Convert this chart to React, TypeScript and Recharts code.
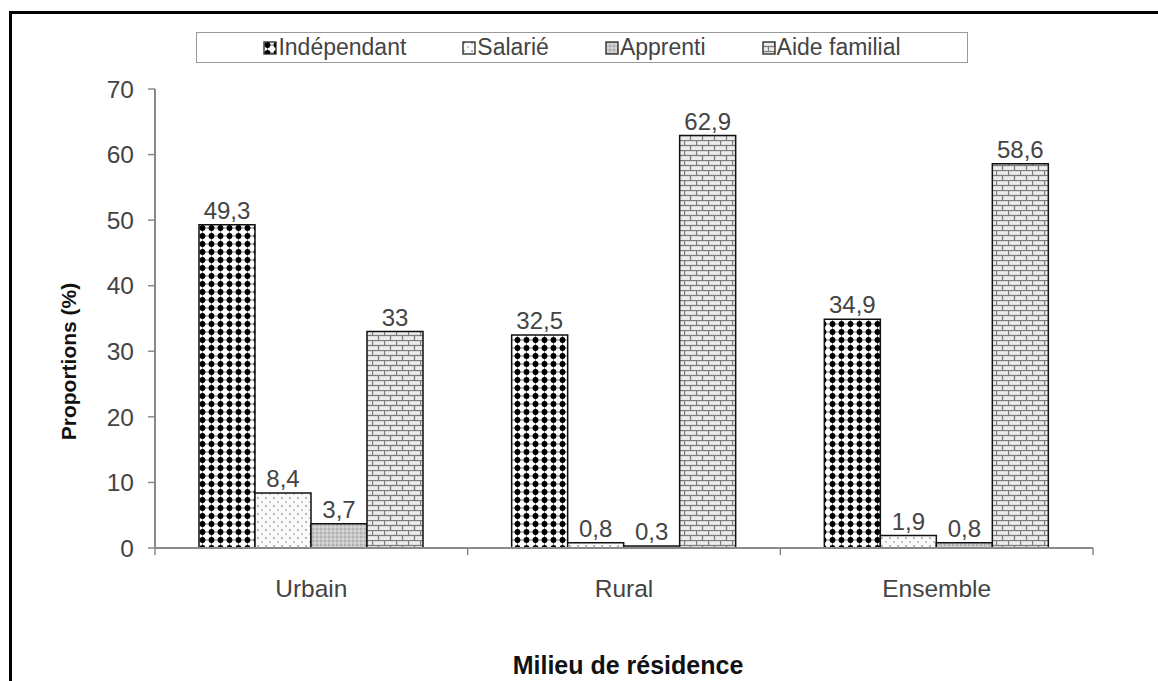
import React from 'react';
import { BarChart, Bar, XAxis, YAxis, Legend, LabelList } from 'recharts';

const categories = ['Urbain', 'Rural', 'Ensemble'];
const independant = [49.3, 32.5, 34.9];
const salarie = [8.4, 0.8, 1.9];
const apprenti = [3.7, 0.3, 0.8];
const aideFamilial = [33, 62.9, 58.6];
const yTicks = [0, 10, 20, 30, 40, 50, 60, 70];
const seriesNames = ['Indépendant', 'Salarié', 'Apprenti', 'Aide familial'];
const seriesKeys = ['ind', 'sal', 'app', 'aide'];
const patternIds = ['pInd', 'pSal', 'pApp', 'pAide'];

const data = categories.map((name, i) => ({
  name,
  ind: independant[i],
  sal: salarie[i],
  app: apprenti[i],
  aide: aideFamilial[i],
}));

const W = 1158;
const H = 681;
const MARGIN = { top: 89, right: 65, bottom: 0, left: 0 };
const Y_AXIS_W = 155;
const X_AXIS_H = 133;
const PLOT_W = W - MARGIN.left - MARGIN.right - Y_AXIS_W;
const BAND = PLOT_W / categories.length;
const FONT = '"Liberation Sans", Arial, sans-serif';
const AXIS_COLOR = '#8a8a8a';
const TEXT_COLOR = '#444';

const fmt = (v: any) => String(v).replace('.', ',');

const XTick = (props: any) => {
  const { x, y, payload, index } = props;
  const half = BAND / 2;
  return (
    <g>
      <line x1={x - half} x2={x - half} y1={y} y2={y + 7} stroke={AXIS_COLOR} strokeWidth={1.5} />
      {index === categories.length - 1 && (
        <line x1={x + half} x2={x + half} y1={y} y2={y + 7} stroke={AXIS_COLOR} strokeWidth={1.5} />
      )}
      <text x={x} y={y + 40} textAnchor="middle" dominantBaseline="central" fontSize={24.5} fill={TEXT_COLOR} fontFamily={FONT}>
        {payload.value}
      </text>
    </g>
  );
};

const LegendContent = () => (
  <div
    style={{
      boxSizing: 'border-box',
      width: 772,
      height: 31,
      border: '1.5px solid #999',
      display: 'flex',
      alignItems: 'center',
      justifyContent: 'center',
      gap: 56,
      fontFamily: FONT,
      fontSize: 23,
      color: TEXT_COLOR,
      background: '#fff',
    }}
  >
    {seriesNames.map((n, i) => (
      <div key={n} style={{ display: 'flex', alignItems: 'center' }}>
        <svg width={14} height={14} style={{ marginRight: 1 }}>
          <rect x={1} y={1} width={12} height={12} fill={`url(#${patternIds[i]})`} stroke="#222" strokeWidth={1.3} />
        </svg>
        <span>{n}</span>
      </div>
    ))}
  </div>
);

export default function App() {
  return (
    <div style={{ position: 'absolute', left: 0, top: 0, width: W, height: H, overflow: 'hidden', background: '#fff' }}>
      <div
        style={{
          position: 'absolute',
          left: 9,
          top: 11,
          width: W,
          height: H,
          borderLeft: '3px solid #000',
          borderTop: '3px solid #000',
        }}
      />
      <div style={{ position: 'absolute', left: 0, top: 0 }}>
        <BarChart width={W} height={H} data={data} margin={MARGIN} barCategoryGap={44} barGap={0}>
          <defs>
            <pattern id="pInd" width={9} height={8} patternUnits="userSpaceOnUse">
              <rect width={9} height={8} fill="#fff" />
              <line x1={0} x2={9} y1={4} y2={4} stroke="#555" strokeWidth={0.8} />
              <line x1={4.5} x2={4.5} y1={0} y2={8} stroke="#555" strokeWidth={0.8} />
              <circle cx={4.5} cy={4} r={2.9} fill="#000" />
            </pattern>
            <pattern id="pSal" width={8} height={8} patternUnits="userSpaceOnUse">
              <rect width={8} height={8} fill="#fafafa" />
              <circle cx={2} cy={2} r={0.9} fill="#9a9a9a" />
              <circle cx={6} cy={6} r={0.9} fill="#b5b5b5" />
            </pattern>
            <pattern id="pApp" width={4} height={4} patternUnits="userSpaceOnUse">
              <rect width={4} height={4} fill="#c8c8c8" />
              <circle cx={1} cy={1} r={0.8} fill="#959595" />
              <circle cx={3} cy={3} r={0.7} fill="#ececec" />
            </pattern>
            <pattern id="pAide" width={12} height={10} patternUnits="userSpaceOnUse">
              <rect width={12} height={10} fill="#ececec" />
              <line x1={0} x2={12} y1={0.5} y2={0.5} stroke="#7c7c7c" strokeWidth={1.3} />
              <line x1={0} x2={12} y1={5.5} y2={5.5} stroke="#7c7c7c" strokeWidth={1.3} />
              <line x1={0.5} x2={0.5} y1={0} y2={5} stroke="#7c7c7c" strokeWidth={1.3} />
              <line x1={6.5} x2={6.5} y1={5} y2={10} stroke="#7c7c7c" strokeWidth={1.3} />
            </pattern>
          </defs>
          <XAxis
            dataKey="name"
            height={X_AXIS_H}
            tickSize={0}
            tickMargin={0}
            tickLine={false}
            tick={<XTick />}
            axisLine={{ stroke: AXIS_COLOR, strokeWidth: 2 }}
            interval={0}
            label={{
              content: (p: any) => {
                const vb = p.viewBox;
                return (
                  <text
                    x={vb.x + vb.width / 2 + 4}
                    y={vb.y + 117}
                    textAnchor="middle"
                    dominantBaseline="central"
                    fontSize={25}
                    fontWeight="bold"
                    fill="#111"
                    fontFamily={FONT}
                  >
                    Milieu de résidence
                  </text>
                );
              },
            }}
          />
          <XAxis
            xAxisId="top"
            dataKey="name"
            orientation="top"
            height={0}
            tick={false}
            tickLine={false}
            axisLine={{ stroke: AXIS_COLOR, strokeWidth: 2 }}
          />
          <YAxis
            domain={[0, 70]}
            ticks={yTicks}
            width={Y_AXIS_W}
            tickSize={7}
            tickMargin={14}
            interval={0}
            tick={{ fontSize: 24.5, fill: TEXT_COLOR, fontFamily: FONT }}
            tickLine={{ stroke: AXIS_COLOR, strokeWidth: 1.5 }}
            axisLine={{ stroke: AXIS_COLOR, strokeWidth: 2 }}
            label={{
              content: (p: any) => {
                const vb = p.viewBox;
                const cx = vb.x + 68;
                const cy = vb.y + vb.height / 2 + 43;
                return (
                  <text
                    x={cx}
                    y={cy}
                    transform={`rotate(-90, ${cx}, ${cy})`}
                    textAnchor="middle"
                    dominantBaseline="central"
                    fontSize={21}
                    fontWeight="bold"
                    fill="#111"
                    fontFamily={FONT}
                  >
                    Proportions (%)
                  </text>
                );
              },
            }}
          />
          <YAxis
            yAxisId="r"
            orientation="right"
            width={0}
            domain={[0, 70]}
            tick={false}
            tickLine={false}
            axisLine={{ stroke: AXIS_COLOR, strokeWidth: 2 }}
          />
          <Legend
            layout="horizontal"
            verticalAlign="middle"
            align="center"
            wrapperStyle={{ position: 'absolute', top: 32, left: 196, width: 772, height: 31 }}
            content={<LegendContent />}
          />
          {seriesKeys.map((k, i) => (
            <Bar
              key={k}
              dataKey={k}
              name={seriesNames[i]}
              fill={`url(#${patternIds[i]})`}
              stroke="#111"
              strokeWidth={1.5}
              isAnimationActive={false}
            >
              <LabelList dataKey={k} position="top" offset={6} fontSize={24} fill={TEXT_COLOR} fontFamily={FONT} formatter={fmt} />
            </Bar>
          ))}
        </BarChart>
      </div>
    </div>
  );
}
